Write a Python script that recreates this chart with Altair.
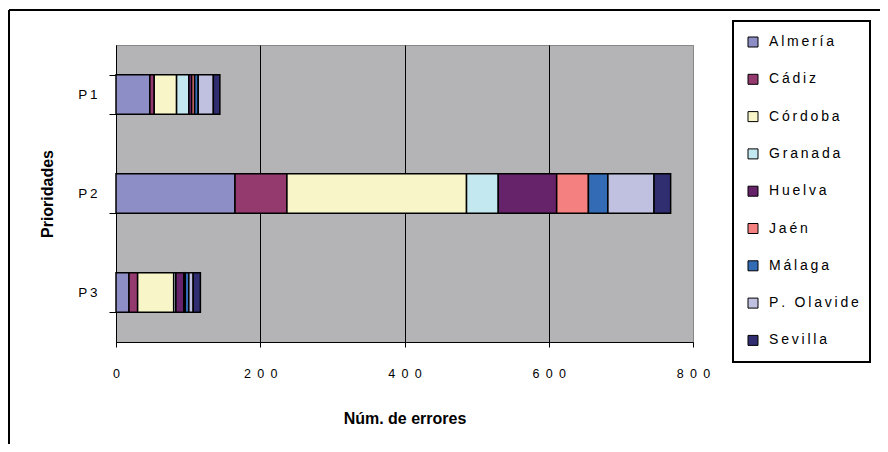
import altair as alt
import pandas as pd

priorities = ["P1", "P2", "P3"]
regions = ["Almería", "Cádiz", "Córdoba", "Granada", "Huelva", "Jaén",
           "Málaga", "P. Olavide", "Sevilla"]
colors = ["#8E8EC6", "#943A6E", "#F8F6C8", "#C4E8EF", "#67236A", "#F48080",
          "#336BB5", "#C0C0E0", "#302E70"]
p1_values = [47, 6, 31, 17, 4, 4, 5, 21, 9]
p2_values = [165, 72, 249, 44, 81, 44, 27, 64, 23]
p3_values = [18, 12, 50, 3, 11, 2, 5, 6, 10]
x_ticks = [0, 200, 400, 600, 800]

rows = []
for p, vals in zip(priorities, [p1_values, p2_values, p3_values]):
    for i, (r, v) in enumerate(zip(regions, vals)):
        rows.append({"Prioridad": p, "Provincia": r, "Errores": v, "orden": i})
df = pd.DataFrame(rows)

FONT = "Liberation Sans"

bars = alt.Chart(df).mark_bar(stroke="black", strokeWidth=1.5).encode(
    y=alt.Y("Prioridad:N", sort=priorities,
            scale=alt.Scale(paddingInner=0.6, paddingOuter=0.3),
            axis=alt.Axis(title="Prioridades", tickBand="extent", tickSize=7,
                          labelPadding=12, titlePadding=22, labelFontSize=13.5,
                          labelFont=FONT, titleFont=FONT, titleFontSize=16,
                          titleFontWeight="bold", labelColor="black",
                          titleColor="black", domainColor="black",
                          tickColor="black", labelAngle=0,
                          labelExpr="join(split(datum.label, ''), '\u2009')")),
    x=alt.X("Errores:Q", stack="zero",
            scale=alt.Scale(domain=[0, 800], nice=False),
            axis=alt.Axis(title="Núm. de errores", values=x_ticks, tickSize=5,
                          labelPadding=20, titlePadding=31, labelFontSize=12.5,
                          labelFont=FONT, titleFont=FONT, titleFontSize=16,
                          titleFontWeight="bold", labelColor="black",
                          titleColor="black", domainColor="black",
                          tickColor="black", grid=True, labelFlush=False,
                          gridColor={"condition": {"test": "datum.value === 800", "value": "#888888"},
                                     "value": "black"},
                          gridOpacity=1,
                          labelExpr="join(split(datum.label, ''), '\u2002')")),
    color=alt.Color("Provincia:N",
                    scale=alt.Scale(domain=regions, range=colors),
                    legend=alt.Legend(title=None, orient="none", legendX=615, legendY=-25,
                                      padding=15, symbolType="square", symbolSize=100,
                                      symbolStrokeColor="black", symbolStrokeWidth=1,
                                      symbolOpacity=1,
                                      labelFont=FONT, labelFontSize=14, labelColor="black",
                                      rowPadding=23.3, labelOffset=9,
                                      labelExpr="join(split(datum.label, ''), '\u2009')")),
    order=alt.Order("orden:Q"),
)

frame = pd.DataFrame({"k": [0]})
left_border = alt.Chart(frame).mark_rule(color="black", strokeWidth=2, clip=False).encode(
    x=alt.value(-107), y=alt.value(-35), y2=alt.value(420))
top_border = alt.Chart(frame).mark_rule(color="black", strokeWidth=2, clip=False).encode(
    x=alt.value(-107), x2=alt.value(800), y=alt.value(-35))
legend_box = alt.Chart(frame).mark_rect(fill="white", stroke="black", strokeWidth=2,
                                        clip=False).encode(
    x=alt.value(617), x2=alt.value(754), y=alt.value(-24), y2=alt.value(317))

chart = alt.layer(left_border, top_border, legend_box, bars).properties(
    width=577, height=297,
    padding={"left": 108, "top": 37, "right": 187, "bottom": 102},
    autosize="none",
    background="white",
).configure_view(fill="#B4B4B7", stroke="#888888", strokeWidth=1)

chart.save("out.html", embed_options={"renderer": "svg", "actions": False})
